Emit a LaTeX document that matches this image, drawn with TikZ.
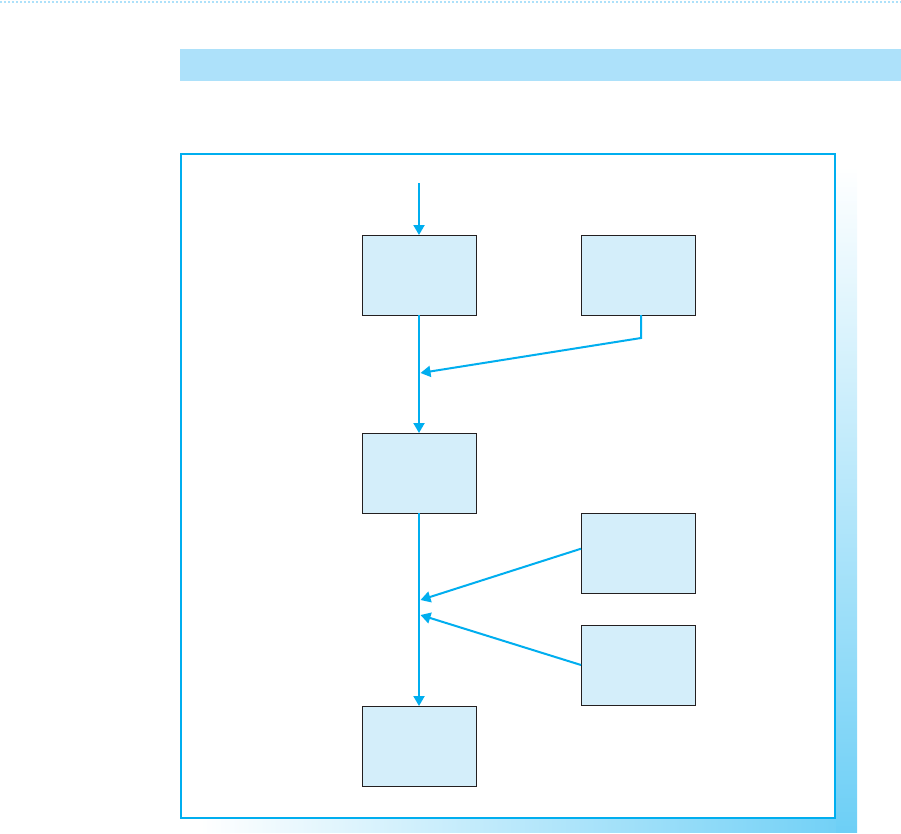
\documentclass[tikz,border=0pt]{standalone}
\usetikzlibrary{arrows.meta}
\definecolor{lineblue}{HTML}{00AEEF}
\definecolor{barblue}{HTML}{ADE1FA}
\definecolor{boxfill}{HTML}{D4EEFA}
\definecolor{boxedge}{HTML}{231F20}
\definecolor{shadowblue}{HTML}{6DCFF6}
\tikzset{
  stepbox/.style={draw=boxedge, line width=1pt, fill=boxfill, minimum width=114pt, minimum height=80pt, inner sep=0pt, outer sep=0pt},
  flow/.style={draw=lineblue, line width=2pt, -{Triangle[length=10pt,width=11pt]}},
}
\begin{document}
\begin{tikzpicture}[x=1pt,y=-1pt]
\useasboundingbox (0,0) rectangle (901,833);
% top dotted rule
\draw[barblue, line width=2pt, dash pattern=on 2pt off 2pt] (0,1.5) -- (901,1.5);
% header bar
\fill[barblue] (180,49) rectangle (901,81);
% shadow
\shade[top color=white, bottom color=shadowblue] (835,166) rectangle (857,832);
\shade[left color=white, right color=shadowblue!96!white] (200,818) rectangle (836,832);
% frame
\draw[lineblue, line width=2pt, fill=white] (181,154) rectangle (835,818);
% boxes
\node[stepbox] (A) at (419,275) {};
\node[stepbox] (B) at (638,275) {};
\node[stepbox] (C) at (419,473) {};
\node[stepbox] (D) at (638,553) {};
\node[stepbox] (E) at (638,665) {};
\node[stepbox] (F) at (419,746) {};
% coordinates
\coordinate (start) at (419,183);
\coordinate (bend) at (641,338);
\coordinate (m1) at (420.5,373);
\coordinate (m2) at (420.5,600);
\coordinate (m3) at (420.5,615);
% connectors
\draw[flow] (start) -- (A.north);
\draw[flow] (A.south) -- (C.north);
\draw[flow] (C.south) -- (F.north);
\draw[flow] (B.south -| bend) -- (bend) -- (m1);
\draw[flow] ([yshift=4.3pt]D.west) -- (m2);
\draw[flow] (E.west) -- (m3);
\end{tikzpicture}
\end{document}
